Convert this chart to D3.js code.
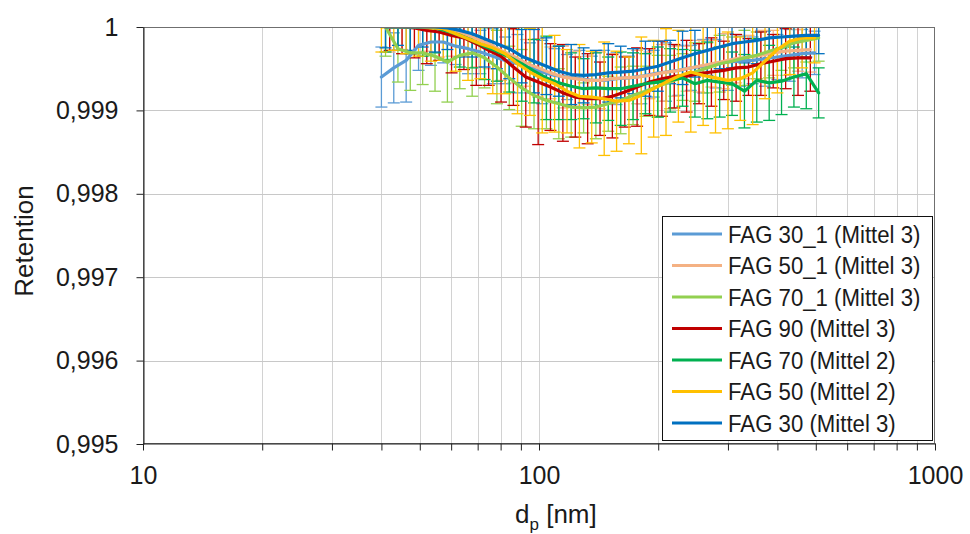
<!DOCTYPE html>
<html>
<head>
<meta charset="utf-8">
<script src="https://cdn.jsdelivr.net/npm/d3@7"></script>
<style>
  html, body { margin: 0; padding: 0; background: #fff; }
  svg { display: block; font-family: "Liberation Sans", Arial, sans-serif; }
</style>
</head>
<body>
<svg id="chart" width="970" height="534"></svg>
<script>
// ---- particle diameters [nm] of the three scan grids ----
const diamA = [40.0, 42.98, 46.19, 49.64, 53.34, 57.32, 61.60, 66.19, 71.13, 76.44, 82.14, 88.27, 94.85, 101.9, 109.5, 117.7, 126.5, 135.9, 146.1, 157.0, 168.7, 181.3, 194.8, 209.3, 224.9, 241.7, 259.7, 279.1, 299.9, 322.3, 346.3, 372.2, 400.0, 429.8, 461.9, 496.4];
const diamB = [40.97, 44.03, 47.31, 50.84, 54.63, 58.71, 63.09, 67.80, 72.86, 78.29, 84.13, 90.41, 97.15, 104.4, 112.2, 120.6, 129.6, 139.2, 149.6, 160.8, 172.8, 185.7, 199.5, 214.4, 230.4, 247.6, 266.1, 285.9, 307.2, 330.2, 354.8, 381.3, 409.7, 440.3, 473.1, 508.4];
const diamC = [41.97, 45.10, 48.46, 52.08, 55.96, 60.14, 64.62, 69.44, 74.62, 80.19, 86.17, 92.60, 99.51, 106.9, 114.9, 123.5, 132.7, 142.6, 153.2, 164.7, 176.9, 190.1, 204.3, 219.6, 235.9, 253.6, 272.5, 292.8, 314.6, 338.1, 363.3, 390.4, 419.6, 450.9, 484.5];

// ---- retention (moving averages) ----
const fag30_1 = [0.99940, 0.99951, 0.99960, 0.99978, 0.99982, 0.99982, 0.99977, 0.99974, 0.99970, 0.99965, 0.99960, 0.99956, 0.99951, 0.99946, 0.99942, 0.99940, 0.99938, 0.99936, 0.99936, 0.99938, 0.99939, 0.99941, 0.99944, 0.99946, 0.99948, 0.99951, 0.99953, 0.99956, 0.99958, 0.99959, 0.99960, 0.99962, 0.99964, 0.99966, 0.99968, 0.99969];
const fag50_1 = [1.00000, 1.00000, 1.00000, 1.00000, 0.99999, 0.99996, 0.99992, 0.99986, 0.99980, 0.99972, 0.99965, 0.99957, 0.99951, 0.99945, 0.99940, 0.99938, 0.99936, 0.99936, 0.99938, 0.99939, 0.99940, 0.99942, 0.99945, 0.99947, 0.99950, 0.99953, 0.99956, 0.99959, 0.99962, 0.99964, 0.99966, 0.99969, 0.99971, 0.99972, 0.99973];
const fag70_1 = [1.00000, 0.99974, 0.99969, 0.99969, 0.99965, 0.99958, 0.99966, 0.99969, 0.99963, 0.99952, 0.99939, 0.99927, 0.99918, 0.99912, 0.99908, 0.99904, 0.99903, 0.99904, 0.99908, 0.99912, 0.99918, 0.99923, 0.99929, 0.99934, 0.99940, 0.99946, 0.99951, 0.99956, 0.99959, 0.99963, 0.99966, 0.99971, 0.99975, 0.99981, 0.99984, 0.99987];
const fag90   = [1.00000, 1.00000, 0.99999, 0.99996, 0.99994, 0.99990, 0.99987, 0.99980, 0.99972, 0.99965, 0.99952, 0.99940, 0.99934, 0.99928, 0.99921, 0.99916, 0.99914, 0.99914, 0.99917, 0.99922, 0.99928, 0.99934, 0.99938, 0.99941, 0.99941, 0.99944, 0.99946, 0.99948, 0.99951, 0.99952, 0.99956, 0.99959, 0.99962, 0.99963, 0.99963];
const fag70   = [1.00000, 1.00000, 1.00000, 1.00000, 0.99999, 0.99995, 0.99990, 0.99984, 0.99977, 0.99971, 0.99964, 0.99956, 0.99947, 0.99939, 0.99933, 0.99929, 0.99926, 0.99927, 0.99926, 0.99926, 0.99929, 0.99932, 0.99934, 0.99936, 0.99939, 0.99932, 0.99936, 0.99934, 0.99932, 0.99923, 0.99936, 0.99933, 0.99935, 0.99940, 0.99944, 0.99921];
const fag50   = [1.00000, 1.00000, 1.00000, 1.00000, 0.99999, 0.99998, 0.99992, 0.99986, 0.99980, 0.99975, 0.99968, 0.99956, 0.99946, 0.99938, 0.99932, 0.99923, 0.99917, 0.99916, 0.99914, 0.99911, 0.99912, 0.99918, 0.99926, 0.99934, 0.99941, 0.99946, 0.99942, 0.99939, 0.99936, 0.99938, 0.99945, 0.99959, 0.99973, 0.99983, 0.99987, 0.99987];
const fag30   = [1.00000, 1.00000, 1.00000, 1.00000, 1.00000, 0.99999, 0.99996, 0.99992, 0.99986, 0.99980, 0.99974, 0.99965, 0.99959, 0.99953, 0.99947, 0.99943, 0.99942, 0.99943, 0.99945, 0.99946, 0.99947, 0.99950, 0.99953, 0.99958, 0.99963, 0.99968, 0.99972, 0.99976, 0.99980, 0.99982, 0.99984, 0.99987, 0.99988, 0.99989, 0.99990, 0.99990];

// ---- standard deviations (error bar half lengths) ----
const err30_1 = [0.00036, 0.00042, 0.00050, 0.00030, 0.00028, 0.00025, 0.00022, 0.00030, 0.00026, 0.00033, 0.00028, 0.00035, 0.00030, 0.00038, 0.00032, 0.00027, 0.00034, 0.00029, 0.00036, 0.00031, 0.00026, 0.00033, 0.00028, 0.00035, 0.00030, 0.00027, 0.00032, 0.00029, 0.00034, 0.00030, 0.00028, 0.00033, 0.00027, 0.00031, 0.00029, 0.00026];
const err50_1 = [0.00030, 0.00027, 0.00033, 0.00029, 0.00035, 0.00031, 0.00027, 0.00034, 0.00030, 0.00036, 0.00032, 0.00028, 0.00035, 0.00031, 0.00037, 0.00033, 0.00029, 0.00034, 0.00030, 0.00026, 0.00032, 0.00028, 0.00034, 0.00030, 0.00027, 0.00031, 0.00028, 0.00033, 0.00029, 0.00026, 0.00030, 0.00027, 0.00029, 0.00025, 0.00027];
const err70_1 = [0.00035, 0.00040, 0.00045, 0.00038, 0.00042, 0.00048, 0.00040, 0.00052, 0.00036, 0.00044, 0.00038, 0.00046, 0.00040, 0.00034, 0.00042, 0.00036, 0.00030, 0.00038, 0.00033, 0.00040, 0.00035, 0.00030, 0.00037, 0.00032, 0.00028, 0.00035, 0.00030, 0.00034, 0.00029, 0.00033, 0.00028, 0.00032, 0.00027, 0.00030, 0.00026, 0.00028];
const err90   = [0.00028, 0.00032, 0.00036, 0.00040, 0.00034, 0.00045, 0.00038, 0.00050, 0.00042, 0.00055, 0.00046, 0.00060, 0.00075, 0.00052, 0.00058, 0.00048, 0.00054, 0.00044, 0.00050, 0.00042, 0.00047, 0.00040, 0.00045, 0.00038, 0.00043, 0.00036, 0.00041, 0.00035, 0.00040, 0.00034, 0.00038, 0.00032, 0.00036, 0.00045, 0.00040];
const err70   = [0.00030, 0.00028, 0.00032, 0.00035, 0.00030, 0.00034, 0.00038, 0.00033, 0.00040, 0.00036, 0.00042, 0.00045, 0.00038, 0.00050, 0.00044, 0.00040, 0.00036, 0.00042, 0.00038, 0.00044, 0.00040, 0.00036, 0.00042, 0.00038, 0.00034, 0.00040, 0.00046, 0.00042, 0.00038, 0.00044, 0.00050, 0.00045, 0.00040, 0.00036, 0.00042, 0.00030];
const err50   = [0.00030, 0.00028, 0.00032, 0.00035, 0.00040, 0.00038, 0.00045, 0.00050, 0.00042, 0.00055, 0.00048, 0.00060, 0.00052, 0.00065, 0.00058, 0.00050, 0.00062, 0.00055, 0.00068, 0.00060, 0.00052, 0.00070, 0.00058, 0.00064, 0.00055, 0.00072, 0.00060, 0.00066, 0.00058, 0.00050, 0.00062, 0.00045, 0.00052, 0.00040, 0.00036, 0.00030];
const err30   = [0.00025, 0.00022, 0.00028, 0.00024, 0.00030, 0.00026, 0.00032, 0.00028, 0.00034, 0.00030, 0.00036, 0.00032, 0.00038, 0.00034, 0.00030, 0.00036, 0.00033, 0.00029, 0.00035, 0.00031, 0.00027, 0.00033, 0.00030, 0.00026, 0.00032, 0.00028, 0.00030, 0.00026, 0.00029, 0.00025, 0.00028, 0.00024, 0.00027, 0.00023, 0.00026, 0.00022];

// ---- names, axis ticks and labels ----
const seriesNames = ["FAG 30_1 (Mittel 3)", "FAG 50_1 (Mittel 3)", "FAG 70_1 (Mittel 3)", "FAG 90 (Mittel 3)", "FAG 70 (Mittel 2)", "FAG 50 (Mittel 2)", "FAG 30 (Mittel 3)"];
const seriesColors = ["#5B9BD5", "#F4B183", "#92D050", "#C00000", "#00B050", "#FFC000", "#0070C0"];
const yTicks = [0.995, 0.996, 0.997, 0.998, 0.999, 1];
const yTickLabels = ["0,995", "0,996", "0,997", "0,998", "0,999", "1"];
const xMajorTicks = [10, 100, 1000];
const xMajorLabels = ["10", "100", "1000"];
const xMinorTicks = [20, 30, 40, 50, 60, 70, 80, 90, 200, 300, 400, 500, 600, 700, 800, 900];

// table of series built from the arrays above
const series = [
  { diam: diamA, val: fag30_1, err: err30_1 },
  { diam: diamC, val: fag50_1, err: err50_1 },
  { diam: diamB, val: fag70_1, err: err70_1 },
  { diam: diamC, val: fag90,   err: err90 },
  { diam: diamB, val: fag70,   err: err70 },
  { diam: diamA, val: fag50,   err: err50 },
  { diam: diamB, val: fag30,   err: err30 }
].map((s, i) => ({
  name: seriesNames[i],
  color: seriesColors[i],
  points: s.diam.map((d, j) => ({ d: d, v: s.val[j], e: s.err[j] }))
}));

// ---- layout ----
const plot = { left: 143, right: 935, top: 27, bottom: 444 };
const svg = d3.select("#chart");

const x = d3.scaleLog().domain([10, 1000]).range([plot.left, plot.right]);
const y = d3.scaleLinear().domain([0.995, 1]).range([plot.bottom, plot.top]);

svg.append("rect").attr("width", 970).attr("height", 534).attr("fill", "#fff");

// gridlines
const grid = svg.append("g").attr("stroke", "#D2D2D2").attr("stroke-width", 1);
grid.selectAll("line.gx").data(xMinorTicks.concat([100]))
  .join("line").attr("class", "gx")
  .attr("x1", d => Math.round(x(d)) + 0.5).attr("x2", d => Math.round(x(d)) + 0.5)
  .attr("y1", plot.top).attr("y2", plot.bottom);
grid.selectAll("line.gy").data(yTicks.slice(1, -1))
  .join("line").attr("class", "gy")
  .attr("stroke", "#C8C8C8")
  .attr("x1", plot.left).attr("x2", plot.right)
  .attr("y1", d => Math.round(y(d)) + 0.5).attr("y2", d => Math.round(y(d)) + 0.5);

// clip region of the plot area
svg.append("clipPath").attr("id", "plotClip")
  .append("rect")
  .attr("x", plot.left).attr("y", plot.top)
  .attr("width", plot.right - plot.left).attr("height", plot.bottom - plot.top);

const plotG = svg.append("g").attr("clip-path", "url(#plotClip)");

// error bars
const capHalf = 6;
const barsG = plotG.append("g").attr("fill", "none").attr("stroke-width", 1.3);
series.forEach(s => {
  const g = barsG.append("g").attr("stroke", s.color);
  const pts = s.points;
  g.selectAll("line.stem").data(pts).join("line").attr("class", "stem")
    .attr("x1", p => x(p.d)).attr("x2", p => x(p.d))
    .attr("y1", p => y(p.v + p.e)).attr("y2", p => y(p.v - p.e));
  g.selectAll("line.capTop").data(pts).join("line").attr("class", "capTop")
    .attr("x1", p => x(p.d) - capHalf).attr("x2", p => x(p.d) + capHalf)
    .attr("y1", p => y(p.v + p.e)).attr("y2", p => y(p.v + p.e));
  g.selectAll("line.capBot").data(pts).join("line").attr("class", "capBot")
    .attr("x1", p => x(p.d) - capHalf).attr("x2", p => x(p.d) + capHalf)
    .attr("y1", p => y(p.v - p.e)).attr("y2", p => y(p.v - p.e));
});

// mean lines
const line = d3.line().x(p => x(p.d)).y(p => y(p.v));
plotG.append("g").selectAll("path").data(series).join("path")
  .attr("d", s => line(s.points))
  .attr("fill", "none")
  .attr("stroke", s => s.color)
  .attr("stroke-width", 3.2)
  .attr("stroke-linejoin", "round")
  .attr("stroke-linecap", "round");

// plot area frame
svg.append("rect")
  .attr("x", plot.left + 0.5).attr("y", plot.top + 0.5)
  .attr("width", plot.right - plot.left - 1).attr("height", plot.bottom - plot.top - 1)
  .attr("fill", "none").attr("stroke", "#6F6F6F").attr("stroke-width", 1);

// axes
const axisColor = "#222";
const yAxis = d3.axisLeft(y).tickValues(yTicks)
  .tickFormat((d, i) => yTickLabels[i]).tickSize(7).tickSizeOuter(0).tickPadding(18);
const yg = svg.append("g").attr("transform", `translate(${plot.left + 0.5},0)`).call(yAxis);

const xAxis = d3.axisBottom(x).tickValues(xMajorTicks)
  .tickFormat((d, i) => xMajorLabels[i]).tickSize(7).tickSizeOuter(0).tickPadding(16);
const xg = svg.append("g").attr("transform", `translate(0,${plot.bottom - 0.5})`).call(xAxis);

const xMinorAxis = d3.axisBottom(x).tickValues(xMinorTicks)
  .tickFormat("").tickSize(7).tickSizeOuter(0);
const xmg = svg.append("g").attr("transform", `translate(0,${plot.bottom - 0.5})`).call(xMinorAxis);
xmg.select(".domain").remove();

[yg, xg, xmg].forEach(g => {
  g.select(".domain").attr("stroke", axisColor);
  g.selectAll(".tick line").attr("stroke", axisColor);
  g.selectAll("text")
    .attr("fill", "#1a1a1a")
    .attr("font-family", '"Liberation Sans", Arial, sans-serif')
    .attr("font-size", 25);
});

// axis titles
svg.append("text")
  .attr("transform", "translate(24,241) rotate(-90)")
  .attr("text-anchor", "middle").attr("dominant-baseline", "central")
  .attr("font-size", 26).attr("fill", "#1a1a1a")
  .text("Retention");

const xTitle = svg.append("text")
  .attr("x", 515).attr("y", 523)
  .attr("font-size", 26).attr("fill", "#1a1a1a");
xTitle.append("tspan").text("d");
xTitle.append("tspan").attr("font-size", 17).attr("dy", 7).text("p");
xTitle.append("tspan").attr("dy", -7).text(" [nm]");

// legend
const legend = svg.append("g");
legend.append("rect")
  .attr("x", 662.5).attr("y", 216.5).attr("width", 270).attr("height", 224)
  .attr("fill", "#fff").attr("stroke", "#111").attr("stroke-width", 1);
const rows = legend.selectAll("g.row").data(series).join("g").attr("class", "row")
  .attr("transform", (s, i) => `translate(0,${234 + i * 31.5})`);
rows.append("line")
  .attr("x1", 672).attr("x2", 722).attr("y1", 0).attr("y2", 0)
  .attr("stroke", s => s.color).attr("stroke-width", 3);
rows.append("text")
  .attr("transform", "translate(728,0) scale(0.925,1)")
  .attr("x", 0).attr("y", 0).attr("dy", "0.36em")
  .attr("font-size", 24).attr("fill", "#1a1a1a")
  .text(s => s.name);
</script>
</body>
</html>
